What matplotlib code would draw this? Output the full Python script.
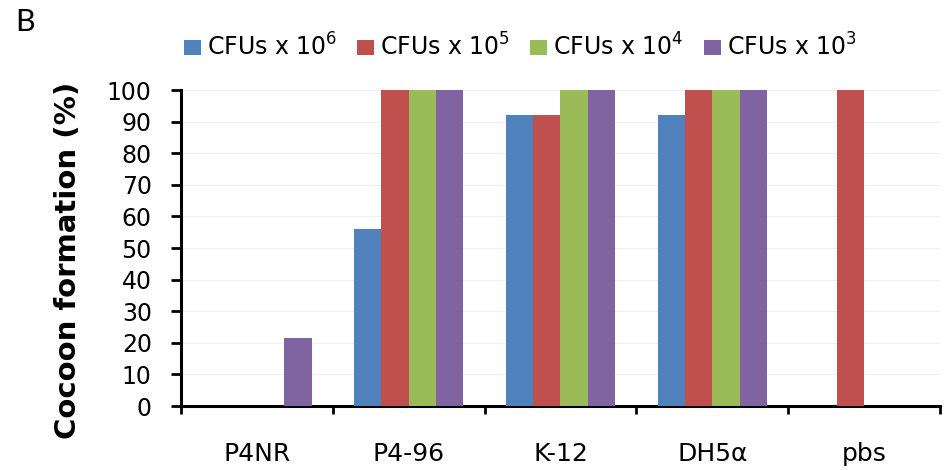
import numpy as np
import matplotlib
matplotlib.use('Agg')
from matplotlib import pyplot as plt

plt.rcParams['font.family'] = ['DejaVu Sans']

strains = ['P4NR', 'P4-96', 'K-12', 'DH5\u03b1', 'pbs']
cfu_1e6 = [0, 56, 92, 92, 0]
cfu_1e5 = [0, 100, 92, 100, 100]
cfu_1e4 = [0, 100, 100, 100, 0]
cfu_1e3 = [21.5, 100, 100, 100, 0]
series_labels = ['CFUs x 10$^6$', 'CFUs x 10$^5$', 'CFUs x 10$^4$', 'CFUs x 10$^3$']
colors = ['#4F81BD', '#C0504D', '#9BBB59', '#8064A2']

fig = plt.figure(figsize=(9.46, 4.70), dpi=100)
ax = fig.add_axes([0.1913, 0.136, 0.8023, 0.6725])

x = np.arange(len(strains))
w = 0.18
for i, (vals, lab, c) in enumerate(zip([cfu_1e6, cfu_1e5, cfu_1e4, cfu_1e3], series_labels, colors)):
    ax.bar(x + (i - 1.5) * w, vals, width=w, color=c, label=lab, zorder=3)

ax.set_xlim(-0.5, len(strains) - 0.5)
ax.set_ylim(0, 100)
ax.set_yticks(range(0, 101, 10))
ax.yaxis.grid(True, color='#f0f0f0', linewidth=0.8, zorder=0)

# ticks sit between groups, names under the group centres
ax.set_xticks(np.arange(-0.5, len(strains), 1.0))
ax.set_xticklabels([])
ax.set_xticks(x, minor=True)
ax.set_xticklabels(strains, minor=True)
ax.tick_params(axis='x', which='major', length=6, width=2, direction='out')
ax.tick_params(axis='x', which='minor', length=0, pad=26, labelsize=18)
ax.tick_params(axis='y', length=7, width=2, direction='out', labelsize=17, pad=14)

for s in ['top', 'right']:
    ax.spines[s].set_visible(False)
for s in ['left', 'bottom']:
    ax.spines[s].set_linewidth(2.2)

ax.set_ylabel('Cocoon formation (%)', fontsize=21, fontweight='bold', va='center')
ax.yaxis.set_label_coords(-0.149, 0.462)

fig.legend(loc='center', bbox_to_anchor=(0.55, 0.9), ncol=4, frameon=False,
           fontsize=17, handlelength=0.72, handleheight=0.6, handletextpad=0.25,
           columnspacing=0.85, borderpad=0, borderaxespad=0)

fig.text(0.016, 0.953, 'B', fontsize=22, va='center', ha='left', family='Lato')

fig.savefig('out.png', dpi=100)
